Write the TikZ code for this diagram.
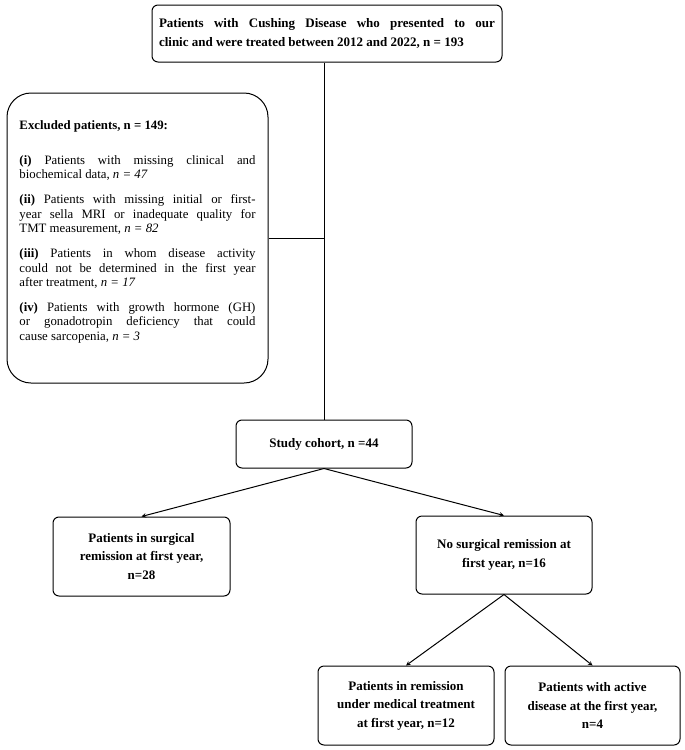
\documentclass[tikz,border=0pt]{standalone}
\usepackage{fontspec}
\setmainfont{Liberation Serif}
\begin{document}
\begin{tikzpicture}[x=1pt,y=-1pt,>=stealth,line join=round,
	box/.style={draw,rounded corners=6pt,line width=1pt,inner sep=0pt,align=center,
		font=\bfseries\fontsize{13}{18.5}\selectfont},
	flow/.style={->,line width=1pt}]
	\useasboundingbox (0,0) rectangle (685,750);
	% boxes
	\node[box,minimum width=350pt,minimum height=57pt,text width=336pt,align=justify] (all) at (327,33.5)
		{Patients with Cushing Disease who presented to our\linebreak clinic and were treated between 2012 and 2022, n = 193};
	\node[box,rounded corners=24pt,minimum width=261pt,minimum height=290pt,text width=236pt,align=justify,
		font=\fontsize{12.8}{14.3}\selectfont] (excl) at (137.5,238)
		{\textbf{Excluded patients, n = 149:}\\[20pt]
		\textbf{(i)} Patients with missing clinical and\linebreak biochemical data, \textit{n = 47}\\[11pt]
		\textbf{(ii)} Patients with missing initial or first-\linebreak year sella MRI or inadequate quality for\linebreak TMT measurement, \textit{n = 82}\\[11pt]
		\textbf{(iii)} Patients in whom disease activity\linebreak could not be determined in the first year\linebreak after treatment, \textit{n = 17}\\[11pt]
		\textbf{(iv)} Patients with growth hormone (GH)\linebreak or gonadotropin deficiency that could\linebreak cause sarcopenia, \textit{n = 3}\\[-4pt]\strut};
	\node[box,minimum width=176pt,minimum height=48pt] (cohort) at (324,444) {Study cohort, n =44};
	\node[box,minimum width=177pt,minimum height=79pt] (surg) at (141.5,556.5)
		{Patients in surgical\\remission at first year,\\n=28};
	\node[box,minimum width=176pt,minimum height=78pt] (nosurg) at (504,555)
		{No surgical remission at\\first year, n=16};
	\node[box,minimum width=176pt,minimum height=79pt] (med) at (406,705.5)
		{Patients in remission\\under medical treatment\\at first year, n=12};
	\node[box,minimum width=175pt,minimum height=79pt] (active) at (592.5,705.5)
		{Patients with active\\disease at the first year,\\n=4};
	% connectors
	\draw[line width=1pt] (all.south -| cohort.north) -- (cohort.north);
	\draw[line width=1pt] (excl.east) -- (excl.east -| cohort.north);
	\draw[flow] (cohort.south) -- (surg.north);
	\draw[flow] (cohort.south) -- (nosurg.north);
	\draw[flow] (nosurg.south) -- (med.north);
	\draw[flow] (nosurg.south) -- (active.north);
\end{tikzpicture}
\end{document}
